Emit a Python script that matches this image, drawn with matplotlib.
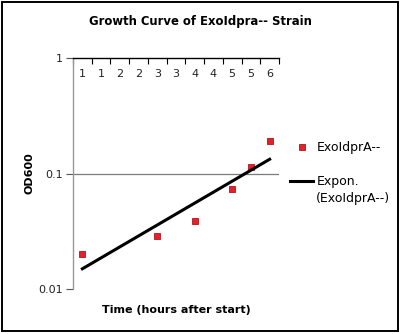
import matplotlib
matplotlib.use("Agg")
import matplotlib.pyplot as plt
from matplotlib.lines import Line2D
from matplotlib.patches import Rectangle
import numpy as np

# growth data, ExoIdprA-- strain
hours = np.array([1, 3, 4, 5, 5.5, 6])
od600 = np.array([0.0201, 0.0289, 0.0388, 0.0738, 0.1138, 0.191])

# category labels along the time axis (one per half hour slot)
slot_labels = ["1", "1", "2", "2", "3", "3", "4", "4", "5", "5", "6"]
slot_centers = np.arange(1, 6.01, 0.5)

# exponential trendline (least squares on log10)
slope, icpt = np.polyfit(hours, np.log10(od600), 1)
fit_x = np.linspace(hours.min(), hours.max(), 50)
fit_y = 10 ** (icpt + slope * fit_x)

W, H = 400, 334
fig = plt.figure(figsize=(W / 100, H / 100), dpi=100)
fig.patch.set_facecolor("white")
ax = fig.add_axes([73 / W, 1 - 289 / H, 206 / W, 231 / H])

pts, = ax.plot(hours, od600, "s", ms=5, color="#e3212b", mec="#b5121b",
               mew=0.6, label="ExoIdprA--", zorder=3)
trend, = ax.plot(fit_x, fit_y, color="black", lw=2.2,
                 label="Expon.", zorder=4)

ax.set_yscale("log")
ax.set_ylim(0.01, 1)
ax.set_xlim(0.75, 6.25)
ax.set_yticks([0.01, 0.1, 1])
ax.set_yticklabels(["0.01", "0.1", "1"])
ax.yaxis.set_minor_locator(matplotlib.ticker.NullLocator())
ax.axhline(0.1, color="#7a7a7a", lw=0.9, zorder=1)

# time axis sits on top, labels just under it
ax.xaxis.set_ticks_position("top")
ax.set_xticks(np.arange(0.75, 6.26, 0.5))
ax.set_xticklabels([])
ax.set_xticks(slot_centers, minor=True)
ax.set_xticklabels(slot_labels, minor=True)
ax.tick_params(axis="x", which="major", direction="in", length=4,
               width=0.8, color="black", top=True, bottom=False)
ax.tick_params(axis="x", which="minor", length=0, top=True, bottom=False,
               labeltop=True, labelbottom=False, pad=-15, labelsize=8,
               labelcolor="#222222")
ax.tick_params(axis="y", which="major", direction="out", length=5,
               width=0.8, color="#555555", labelsize=8, labelcolor="#222222",
               pad=2)

for side in ("bottom", "right"):
    ax.spines[side].set_visible(False)
ax.spines["top"].set_color("black")
ax.spines["top"].set_linewidth(1.0)
ax.spines["left"].set_color("#999999")
ax.spines["left"].set_linewidth(1.0)

ax.set_ylabel("OD600", fontsize=8, fontweight="bold")
ax.yaxis.set_label_coords(-0.185, 0.5)
ax.set_xlabel("Time (hours after start)", fontsize=8, fontweight="bold")
ax.xaxis.set_label_position("bottom")
ax.xaxis.set_label_coords(0.5, -0.068)

fig.text(200 / W, 1 - 22 / H, "Growth Curve of ExoIdpra-- Strain",
         ha="center", va="center", fontsize=8.4, fontweight="bold")

# legend: data series, then trendline with its two-line label
leg_kw = dict(loc="center left", frameon=False, fontsize=9,
              handlelength=1.85, handletextpad=0.25, borderaxespad=0,
              borderpad=0)
fig.legend(handles=[pts], bbox_to_anchor=(290 / W, 1 - 148 / H), **leg_kw)
blank = Line2D([], [], color="none", label="(ExoIdprA--)")
fig.legend(handles=[trend, blank], bbox_to_anchor=(290 / W, 1 - 190 / H),
           labelspacing=0.3, **leg_kw)

fig.patches.append(Rectangle((1.5 / W, 3 / H), 396 / W, 329.5 / H,
                             transform=fig.transFigure, fill=False,
                             ec="black", lw=1.4))

fig.savefig("out.png", dpi=100)
